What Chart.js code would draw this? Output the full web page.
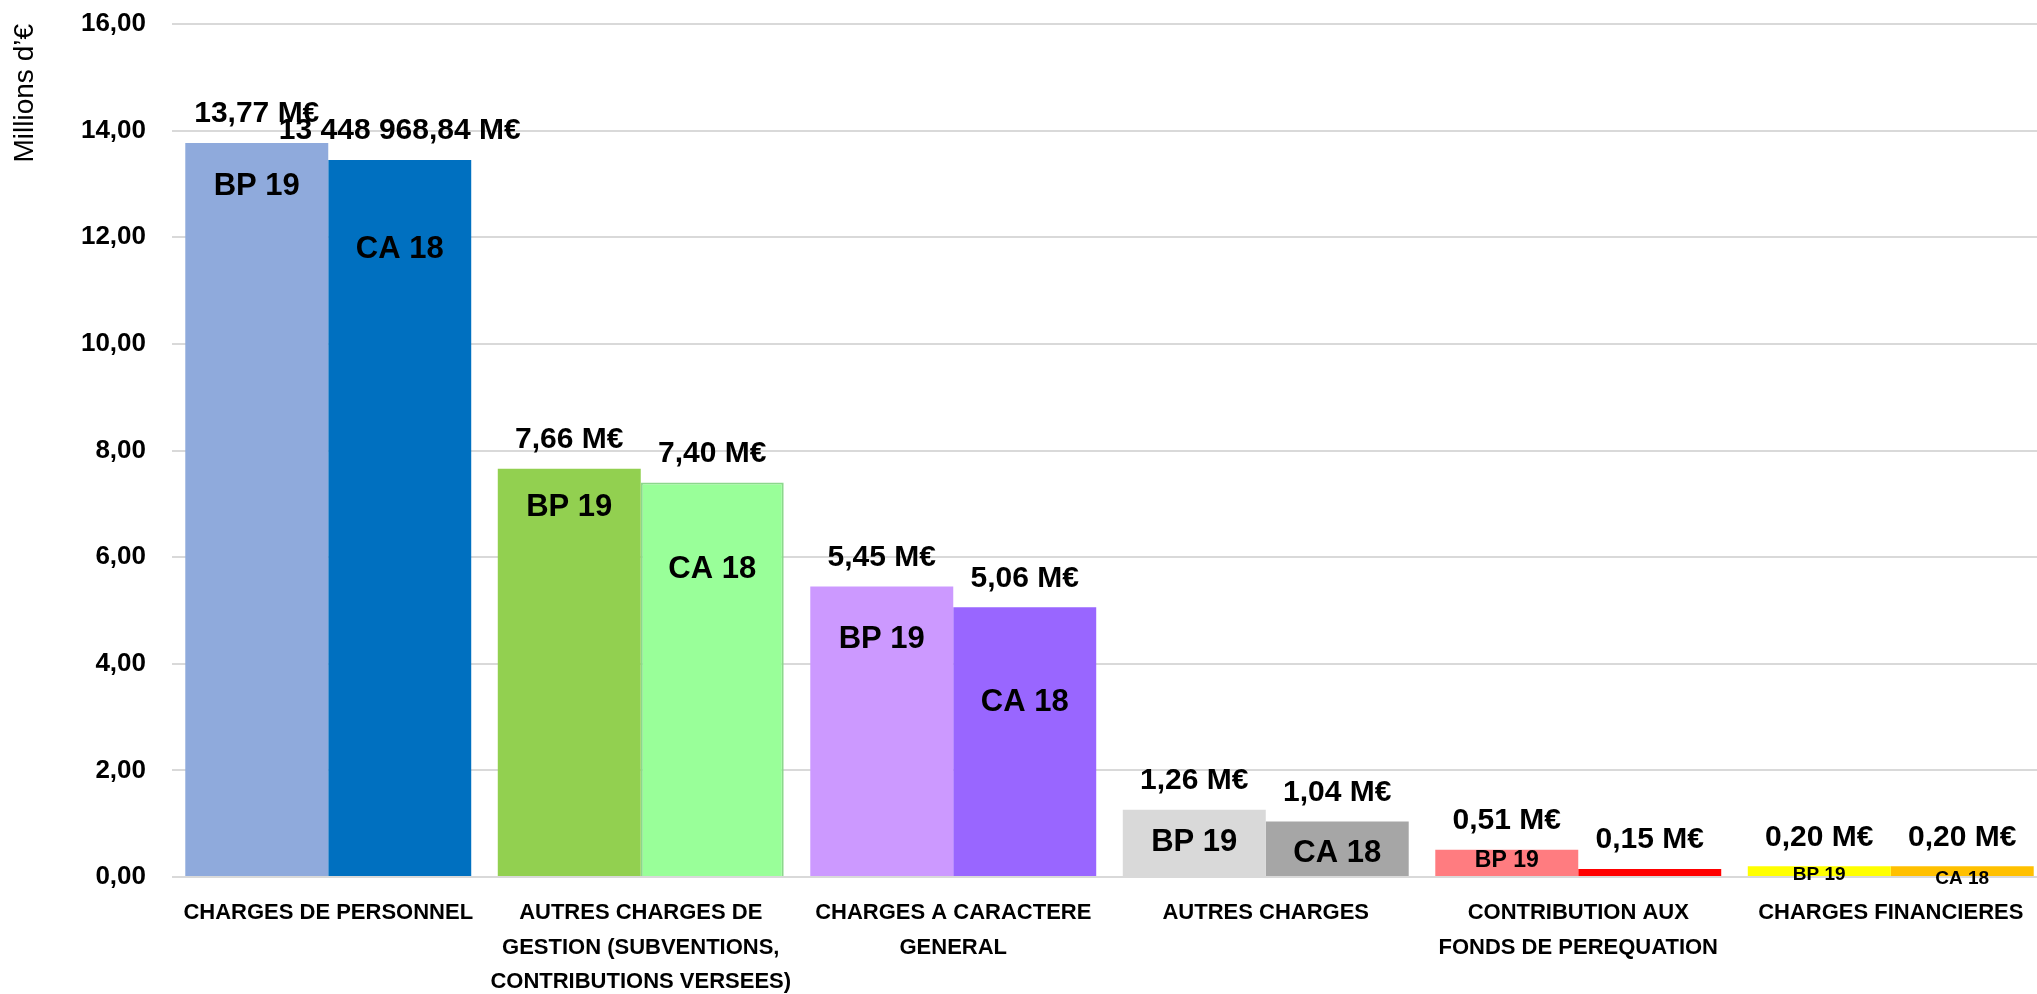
<!DOCTYPE html>
<html>
<head>
<meta charset="utf-8">
<script src="https://cdn.jsdelivr.net/npm/chart.js@4.4.1/dist/chart.umd.min.js"></script>
<style>
    html, body { margin: 0; padding: 0; overflow: hidden; background: #fff; }
</style>
</head>
<body>
<canvas id="myChart" width="2060" height="994"></canvas>
<script>
// Données du graphique
var categories = [
    ['CHARGES DE PERSONNEL'],
    ['AUTRES CHARGES DE', 'GESTION (SUBVENTIONS,', 'CONTRIBUTIONS VERSEES)'],
    ['CHARGES A CARACTERE', 'GENERAL'],
    ['AUTRES CHARGES'],
    ['CONTRIBUTION AUX', 'FONDS DE PEREQUATION'],
    ['CHARGES FINANCIERES']
];
var bp19 = [13.77, 7.66, 5.45, 1.26, 0.51, 0.20];
var ca18 = [13.45, 7.40, 5.06, 1.04, 0.15, 0.20];
var bp19Labels = ['13,77 M€', '7,66 M€', '5,45 M€', '1,26 M€', '0,51 M€', '0,20 M€'];
var ca18Labels = ['13 448 968,84 M€', '7,40 M€', '5,06 M€', '1,04 M€', '0,15 M€', '0,20 M€'];
var yTicks = [0, 2, 4, 6, 8, 10, 12, 14, 16];

var FONT = '"Liberation Sans", Arial, sans-serif';

// Couleurs de chaque barre
var bp19Colors = ['#8FAADC', '#92D050', '#CC99FF', '#D9D9D9', '#FF7C80', '#FFFF00'];
var ca18Colors = ['#0070C0', '#99FF99', '#9966FF', '#A6A6A6', '#FF0000', '#FFC000'];

// Étiquettes "BP 19" / "CA 18" dans les barres : décalage sous le haut de la barre et taille
var bp19Inner = [{ dy: 44, size: 31 }, { dy: 39, size: 31 }, { dy: 53, size: 31 }, { dy: 33, size: 31 }, { dy: 11, size: 23 }, { dy: 8, size: 19 }];
var ca18Inner = [{ dy: 90, size: 31 }, { dy: 87, size: 31 }, { dy: 95, size: 31 }, { dy: 32, size: 31 }, null, { dy: 12, size: 19 }];

var barText = {
    id: 'barText',
    afterDatasetsDraw: function (chart) {
        var ctx = chart.ctx;
        chart.data.datasets.forEach(function (ds, di) {
            var meta = chart.getDatasetMeta(di);
            meta.data.forEach(function (bar, i) {
                ctx.save();
                ctx.fillStyle = '#000';
                ctx.textAlign = 'center';
                ctx.textBaseline = 'middle';
                ctx.font = 'bold 30px ' + FONT;
                ctx.fillText(ds.valueLabels[i], bar.x, bar.y - 29);
                var st = ds.inner[i];
                if (st) {
                    ctx.font = 'bold ' + st.size + 'px ' + FONT;
                    ctx.fillText(ds.label, bar.x, bar.y + st.dy);
                }
                ctx.restore();
            });
        });
    }
};

var ctx = document.getElementById('myChart').getContext('2d');
var myChart = new Chart(ctx, {
    type: 'bar',
    data: {
        labels: categories,
        datasets: [{
            label: 'BP 19',
            data: bp19,
            backgroundColor: bp19Colors,
            valueLabels: bp19Labels,
            inner: bp19Inner,
            barPercentage: 1.0,
            categoryPercentage: 0.915
        }, {
            label: 'CA 18',
            data: ca18,
            backgroundColor: ca18Colors,
            // seule la barre vert clair a un léger contour
            borderColor: '#8CD88C',
            borderWidth: [0, 2, 0, 0, 0, 0],
            borderSkipped: 'start',
            valueLabels: ca18Labels,
            inner: ca18Inner,
            barPercentage: 1.0,
            categoryPercentage: 0.915
        }]
    },
    options: {
        responsive: false,
        animation: false,
        devicePixelRatio: 1,
        layout: { padding: { top: 24, right: 13, left: 0, bottom: 0 } },
        plugins: {
            legend: { display: false },
            tooltip: { enabled: false }
        },
        scales: {
            x: {
                grid: { display: false, drawTicks: false },
                border: { display: false },
                ticks: {
                    color: '#000',
                    padding: 19,
                    maxRotation: 0,
                    autoSkip: false,
                    font: { family: FONT, size: 22, weight: 'bold', lineHeight: 1.57 }
                },
                afterFit: function (scale) { scale.height = 117; }
            },
            y: {
                min: 0,
                max: 16,
                afterBuildTicks: function (scale) {
                    scale.ticks = yTicks.map(function (v) { return { value: v }; });
                },
                grid: { color: '#D9D9D9', lineWidth: 2, drawTicks: false },
                border: { display: false },
                ticks: {
                    color: '#000',
                    padding: 26,
                    font: { family: FONT, size: 26, weight: 'bold' },
                    callback: function (v) { return v.toFixed(2).replace('.', ','); }
                },
                title: {
                    display: true,
                    text: 'Millions d\u2019€',
                    align: 'end',
                    color: '#000',
                    padding: { top: 8, bottom: 0 },
                    font: { family: FONT, size: 28 }
                },
                afterFit: function (scale) {
                    scale.width = 172;
                    scale.paddingTop = 0;
                    scale.paddingBottom = 0;
                }
            }
        }
    },
    plugins: [barText]
});
</script>
</body>
</html>
